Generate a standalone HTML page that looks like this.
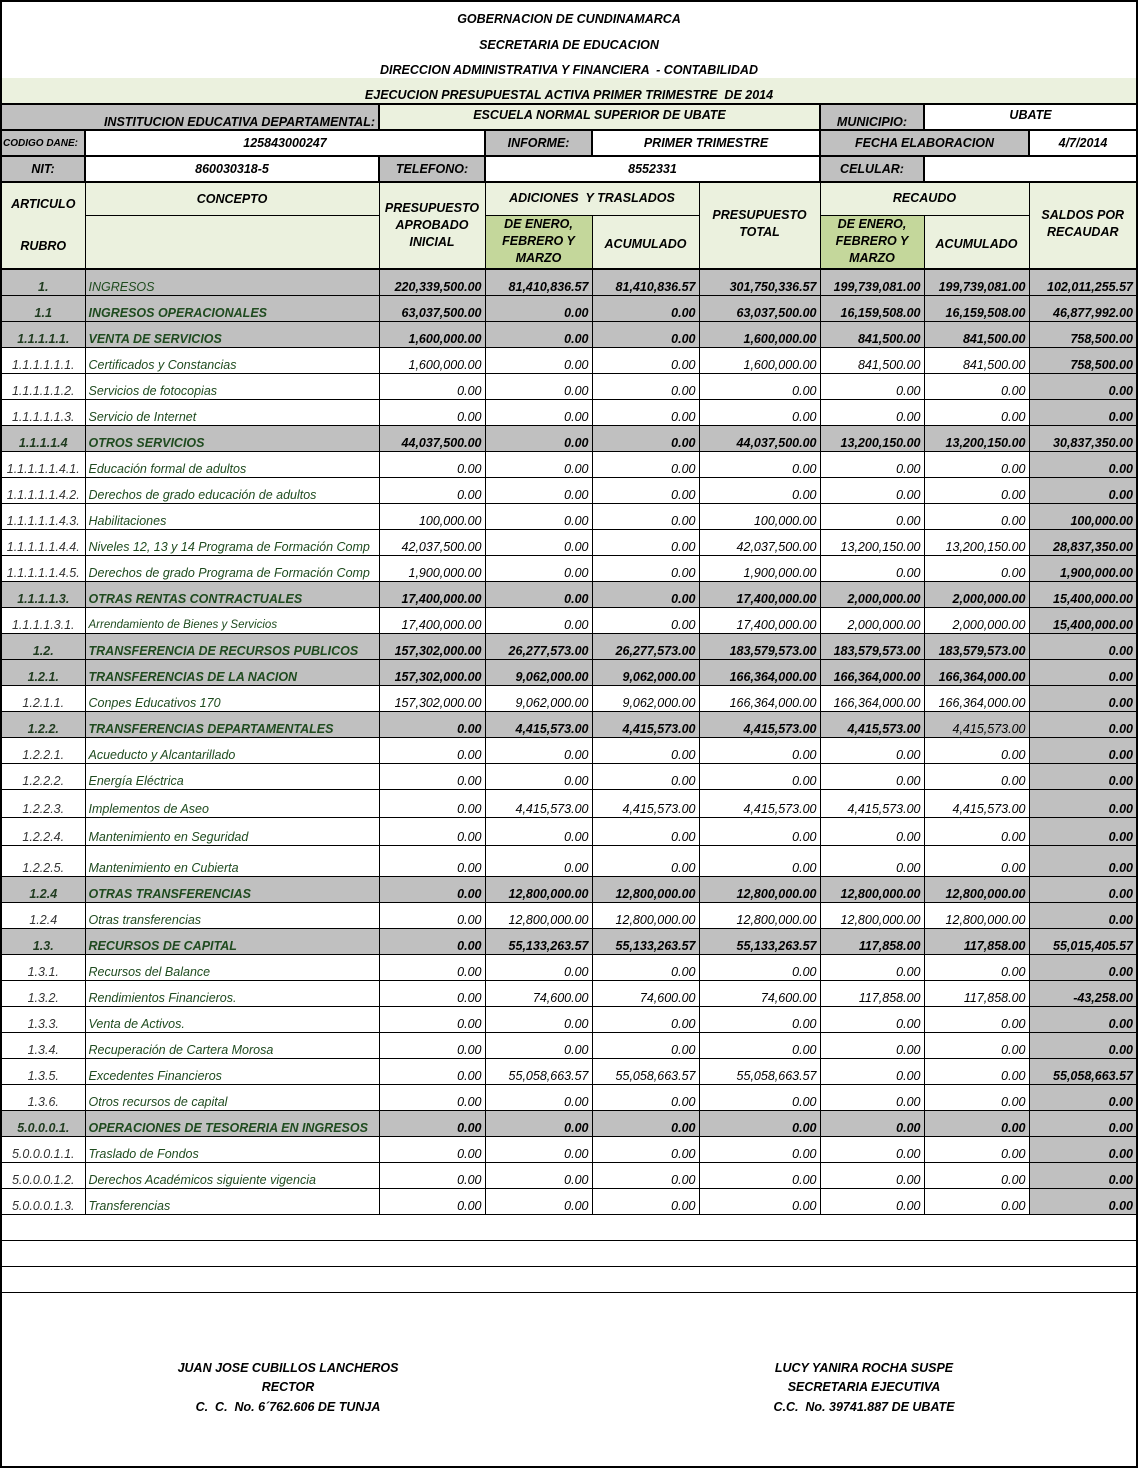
<!DOCTYPE html>
<html><head><meta charset="utf-8">
<style>
html,body{margin:0;padding:0;background:#fff;}
body{width:1138px;height:1467px;overflow:hidden;position:relative;}
table{position:absolute;left:0;top:0;border-collapse:collapse;table-layout:fixed;width:1138px;border:2px solid #000;}
td{border:1px solid #000;padding:0 3px 1px 3px;font-family:"Liberation Sans",sans-serif;font-style:italic;font-size:12.5px;color:#000;white-space:nowrap;overflow:hidden;vertical-align:bottom;line-height:14px;}
.t td{border:none;text-align:center;font-weight:bold;font-size:12.5px;}
.gr{background:#c0c0c0;}
.lg{background:#ebf1de;}
.dg{background:#c4d79b;}
.w{background:#fff;}
.b{font-weight:bold;}
.c{text-align:center;}
.r{text-align:right;}
.hd td{border-width:2px;}
tr.d td{text-align:right;}
tr.d td:nth-child(1){text-align:center;color:#333;}
tr.d td:nth-child(2){text-align:left;color:#1f4b1f;}
tr.d td:nth-child(9){background:#c0c0c0;font-weight:bold;}
tr.g td{background:#c0c0c0;font-weight:bold;}
tr.g td:nth-child(1){color:#1f3b1f;}
tr.d{height:26px;}
.sig td{border:none;text-align:center;font-weight:bold;font-size:12.5px;line-height:19.5px;vertical-align:top;}
</style></head><body>
<table>
<colgroup><col style="width:84px"><col style="width:294px"><col style="width:106px"><col style="width:107px"><col style="width:107px"><col style="width:121px"><col style="width:104px"><col style="width:105px"><col style="width:108px"></colgroup>
<tr class="t" style="height:29px"><td colspan="9" style="padding-bottom:4px">GOBERNACION DE CUNDINAMARCA</td></tr>
<tr class="t" style="height:26px"><td colspan="9" style="padding-bottom:4px">SECRETARIA DE EDUCACION</td></tr>
<tr class="t" style="height:22px"><td colspan="9" style="padding-bottom:1px">DIRECCION ADMINISTRATIVA Y FINANCIERA &nbsp;- CONTABILIDAD</td></tr>
<tr class="t" style="height:26px"><td colspan="9" class="lg" style="border-bottom:2px solid #000;padding-bottom:1px">EJECUCION PRESUPUESTAL ACTIVA PRIMER TRIMESTRE &nbsp;DE 2014</td></tr>
<tr class="hd" style="height:26px"><td colspan="2" class="gr b r" style="padding-bottom:0">INSTITUCION EDUCATIVA DEPARTAMENTAL:</td><td colspan="4" class="lg b c" style="vertical-align:top;padding-top:3px">ESCUELA NORMAL SUPERIOR DE UBATE</td><td class="gr b c" style="padding-bottom:0">MUNICIPIO:</td><td colspan="2" class="w b c" style="vertical-align:top;padding-top:3px">UBATE</td></tr>
<tr class="hd" style="height:26px"><td class="gr b" style="font-size:10px;padding:0 1px 4px 1px">CODIGO DANE:</td><td colspan="2" class="w b c" style="padding-bottom:5px">125843000247</td><td class="gr b c" style="padding-bottom:5px">INFORME:</td><td colspan="2" class="w b c" style="padding-bottom:5px">PRIMER TRIMESTRE</td><td colspan="2" class="gr b c" style="padding-bottom:5px">FECHA ELABORACION</td><td class="w b c" style="padding-bottom:5px">4/7/2014</td></tr>
<tr class="hd" style="height:26px"><td class="gr b c" style="padding-bottom:5px">NIT:</td><td class="w b c" style="padding-bottom:5px">860030318-5</td><td class="gr b c" style="padding-bottom:5px">TELEFONO:</td><td colspan="3" class="w b c" style="padding-bottom:5px">8552331</td><td class="gr b c" style="padding-bottom:5px">CELULAR:</td><td colspan="2" class="w"></td></tr>
<tr style="height:33px"><td rowspan="2" class="lg b c" style="vertical-align:top;padding-top:0;line-height:42px;border-bottom:2px solid #000">ARTICULO<br>RUBRO</td><td class="lg b c" style="vertical-align:top;padding-top:9px">CONCEPTO</td><td rowspan="2" class="lg b c" style="vertical-align:top;padding-top:17px;line-height:17px;border-bottom:2px solid #000">PRESUPUESTO<br>APROBADO<br>INICIAL</td><td colspan="2" class="lg b c" style="vertical-align:top;padding-top:8px">ADICIONES &nbsp;Y TRASLADOS</td><td rowspan="2" class="lg b c" style="vertical-align:top;padding-top:24px;line-height:17px;border-bottom:2px solid #000">PRESUPUESTO<br>TOTAL</td><td colspan="2" class="lg b c" style="vertical-align:top;padding-top:8px">RECAUDO</td><td rowspan="2" class="lg b c" style="vertical-align:top;padding-top:24px;line-height:17px;border-bottom:2px solid #000">SALDOS POR<br>RECAUDAR</td></tr>
<tr style="height:52px"><td class="lg" style="border-bottom:2px solid #000"></td><td class="dg b c" style="line-height:17px;vertical-align:top;padding:0 3px;border-bottom:2px solid #000">DE ENERO,<br>FEBRERO Y<br>MARZO</td><td class="lg b c" style="padding-bottom:17px;border-bottom:2px solid #000">ACUMULADO</td><td class="dg b c" style="line-height:17px;vertical-align:top;padding:0 3px;border-bottom:2px solid #000">DE ENERO,<br>FEBRERO Y<br>MARZO</td><td class="lg b c" style="padding-bottom:17px;border-bottom:2px solid #000">ACUMULADO</td></tr>
<tr class="d g"><td>1.</td><td style="font-weight:normal">INGRESOS</td><td>220,339,500.00</td><td>81,410,836.57</td><td>81,410,836.57</td><td>301,750,336.57</td><td>199,739,081.00</td><td>199,739,081.00</td><td>102,011,255.57</td></tr>
<tr class="d g"><td>1.1</td><td>INGRESOS OPERACIONALES</td><td>63,037,500.00</td><td>0.00</td><td>0.00</td><td>63,037,500.00</td><td>16,159,508.00</td><td>16,159,508.00</td><td>46,877,992.00</td></tr>
<tr class="d g"><td>1.1.1.1.1.</td><td>VENTA DE SERVICIOS</td><td>1,600,000.00</td><td>0.00</td><td>0.00</td><td>1,600,000.00</td><td>841,500.00</td><td>841,500.00</td><td>758,500.00</td></tr>
<tr class="d"><td>1.1.1.1.1.1.</td><td>Certificados y Constancias</td><td>1,600,000.00</td><td>0.00</td><td>0.00</td><td>1,600,000.00</td><td>841,500.00</td><td>841,500.00</td><td>758,500.00</td></tr>
<tr class="d"><td>1.1.1.1.1.2.</td><td>Servicios de fotocopias</td><td>0.00</td><td>0.00</td><td>0.00</td><td>0.00</td><td>0.00</td><td>0.00</td><td>0.00</td></tr>
<tr class="d"><td>1.1.1.1.1.3.</td><td>Servicio de Internet</td><td>0.00</td><td>0.00</td><td>0.00</td><td>0.00</td><td>0.00</td><td>0.00</td><td>0.00</td></tr>
<tr class="d g"><td>1.1.1.1.4</td><td>OTROS SERVICIOS</td><td>44,037,500.00</td><td>0.00</td><td>0.00</td><td>44,037,500.00</td><td>13,200,150.00</td><td>13,200,150.00</td><td>30,837,350.00</td></tr>
<tr class="d"><td style="padding:0 1px 1px 1px">1.1.1.1.1.4.1.</td><td>Educación formal de adultos</td><td>0.00</td><td>0.00</td><td>0.00</td><td>0.00</td><td>0.00</td><td>0.00</td><td>0.00</td></tr>
<tr class="d"><td style="padding:0 1px 1px 1px">1.1.1.1.1.4.2.</td><td>Derechos de grado educación de adultos</td><td>0.00</td><td>0.00</td><td>0.00</td><td>0.00</td><td>0.00</td><td>0.00</td><td>0.00</td></tr>
<tr class="d"><td style="padding:0 1px 1px 1px">1.1.1.1.1.4.3.</td><td>Habilitaciones</td><td>100,000.00</td><td>0.00</td><td>0.00</td><td>100,000.00</td><td>0.00</td><td>0.00</td><td>100,000.00</td></tr>
<tr class="d"><td style="padding:0 1px 1px 1px">1.1.1.1.1.4.4.</td><td>Niveles 12, 13 y 14 Programa de Formación Comp</td><td>42,037,500.00</td><td>0.00</td><td>0.00</td><td>42,037,500.00</td><td>13,200,150.00</td><td>13,200,150.00</td><td>28,837,350.00</td></tr>
<tr class="d"><td style="padding:0 1px 1px 1px">1.1.1.1.1.4.5.</td><td>Derechos de grado Programa de Formación Comp</td><td>1,900,000.00</td><td>0.00</td><td>0.00</td><td>1,900,000.00</td><td>0.00</td><td>0.00</td><td>1,900,000.00</td></tr>
<tr class="d g"><td>1.1.1.1.3.</td><td>OTRAS RENTAS CONTRACTUALES</td><td>17,400,000.00</td><td>0.00</td><td>0.00</td><td>17,400,000.00</td><td>2,000,000.00</td><td>2,000,000.00</td><td>15,400,000.00</td></tr>
<tr class="d"><td>1.1.1.1.3.1.</td><td style="font-size:11.5px">Arrendamiento de Bienes y Servicios</td><td>17,400,000.00</td><td>0.00</td><td>0.00</td><td>17,400,000.00</td><td>2,000,000.00</td><td>2,000,000.00</td><td>15,400,000.00</td></tr>
<tr class="d g"><td>1.2.</td><td>TRANSFERENCIA DE RECURSOS PUBLICOS</td><td>157,302,000.00</td><td>26,277,573.00</td><td>26,277,573.00</td><td>183,579,573.00</td><td>183,579,573.00</td><td>183,579,573.00</td><td>0.00</td></tr>
<tr class="d g"><td>1.2.1.</td><td>TRANSFERENCIAS DE LA NACION</td><td>157,302,000.00</td><td>9,062,000.00</td><td>9,062,000.00</td><td>166,364,000.00</td><td>166,364,000.00</td><td>166,364,000.00</td><td>0.00</td></tr>
<tr class="d"><td>1.2.1.1.</td><td>Conpes Educativos 170</td><td>157,302,000.00</td><td>9,062,000.00</td><td>9,062,000.00</td><td>166,364,000.00</td><td>166,364,000.00</td><td>166,364,000.00</td><td>0.00</td></tr>
<tr class="d g"><td>1.2.2.</td><td>TRANSFERENCIAS DEPARTAMENTALES</td><td>0.00</td><td>4,415,573.00</td><td>4,415,573.00</td><td>4,415,573.00</td><td>4,415,573.00</td><td style="font-weight:normal">4,415,573.00</td><td>0.00</td></tr>
<tr class="d"><td>1.2.2.1.</td><td>Acueducto y Alcantarillado</td><td>0.00</td><td>0.00</td><td>0.00</td><td>0.00</td><td>0.00</td><td>0.00</td><td>0.00</td></tr>
<tr class="d"><td>1.2.2.2.</td><td>Energía Eléctrica</td><td>0.00</td><td>0.00</td><td>0.00</td><td>0.00</td><td>0.00</td><td>0.00</td><td>0.00</td></tr>
<tr class="d" style="height:28px"><td>1.2.2.3.</td><td>Implementos de Aseo</td><td>0.00</td><td>4,415,573.00</td><td>4,415,573.00</td><td>4,415,573.00</td><td>4,415,573.00</td><td>4,415,573.00</td><td>0.00</td></tr>
<tr class="d" style="height:28px"><td>1.2.2.4.</td><td>Mantenimiento en Seguridad</td><td>0.00</td><td>0.00</td><td>0.00</td><td>0.00</td><td>0.00</td><td>0.00</td><td>0.00</td></tr>
<tr class="d" style="height:31px"><td>1.2.2.5.</td><td>Mantenimiento en Cubierta</td><td>0.00</td><td>0.00</td><td>0.00</td><td>0.00</td><td>0.00</td><td>0.00</td><td>0.00</td></tr>
<tr class="d g"><td>1.2.4</td><td>OTRAS TRANSFERENCIAS</td><td>0.00</td><td>12,800,000.00</td><td>12,800,000.00</td><td>12,800,000.00</td><td>12,800,000.00</td><td>12,800,000.00</td><td>0.00</td></tr>
<tr class="d"><td>1.2.4</td><td>Otras transferencias</td><td>0.00</td><td>12,800,000.00</td><td>12,800,000.00</td><td>12,800,000.00</td><td>12,800,000.00</td><td>12,800,000.00</td><td>0.00</td></tr>
<tr class="d g"><td>1.3.</td><td>RECURSOS DE CAPITAL</td><td>0.00</td><td>55,133,263.57</td><td>55,133,263.57</td><td>55,133,263.57</td><td>117,858.00</td><td>117,858.00</td><td>55,015,405.57</td></tr>
<tr class="d"><td>1.3.1.</td><td>Recursos del Balance</td><td>0.00</td><td>0.00</td><td>0.00</td><td>0.00</td><td>0.00</td><td>0.00</td><td>0.00</td></tr>
<tr class="d"><td>1.3.2.</td><td>Rendimientos Financieros.</td><td>0.00</td><td>74,600.00</td><td>74,600.00</td><td>74,600.00</td><td>117,858.00</td><td>117,858.00</td><td>-43,258.00</td></tr>
<tr class="d"><td>1.3.3.</td><td>Venta de Activos.</td><td>0.00</td><td>0.00</td><td>0.00</td><td>0.00</td><td>0.00</td><td>0.00</td><td>0.00</td></tr>
<tr class="d"><td>1.3.4.</td><td>Recuperación de Cartera Morosa</td><td>0.00</td><td>0.00</td><td>0.00</td><td>0.00</td><td>0.00</td><td>0.00</td><td>0.00</td></tr>
<tr class="d"><td>1.3.5.</td><td>Excedentes Financieros</td><td>0.00</td><td>55,058,663.57</td><td>55,058,663.57</td><td>55,058,663.57</td><td>0.00</td><td>0.00</td><td>55,058,663.57</td></tr>
<tr class="d"><td>1.3.6.</td><td>Otros recursos de capital</td><td>0.00</td><td>0.00</td><td>0.00</td><td>0.00</td><td>0.00</td><td>0.00</td><td>0.00</td></tr>
<tr class="d g"><td>5.0.0.0.1.</td><td>OPERACIONES DE TESORERIA EN INGRESOS</td><td>0.00</td><td>0.00</td><td>0.00</td><td>0.00</td><td>0.00</td><td>0.00</td><td>0.00</td></tr>
<tr class="d"><td>5.0.0.0.1.1.</td><td>Traslado de Fondos</td><td>0.00</td><td>0.00</td><td>0.00</td><td>0.00</td><td>0.00</td><td>0.00</td><td>0.00</td></tr>
<tr class="d"><td>5.0.0.0.1.2.</td><td>Derechos Académicos siguiente vigencia</td><td>0.00</td><td>0.00</td><td>0.00</td><td>0.00</td><td>0.00</td><td>0.00</td><td>0.00</td></tr>
<tr class="d"><td>5.0.0.0.1.3.</td><td>Transferencias</td><td>0.00</td><td>0.00</td><td>0.00</td><td>0.00</td><td>0.00</td><td>0.00</td><td>0.00</td></tr>
<tr style="height:26px"><td colspan="9"></td></tr>
<tr style="height:26px"><td colspan="9"></td></tr>
<tr style="height:26px"><td colspan="9"></td></tr>
<tr class="sig" style="height:175px"><td colspan="4" style="padding:66px 18px 0 0;text-align:center">JUAN JOSE CUBILLOS LANCHEROS<br>RECTOR<br>C. &nbsp;C. &nbsp;No. 6´762.606 DE TUNJA</td><td colspan="5" style="padding:66px 0 0 0;text-align:center">LUCY YANIRA ROCHA SUSPE<br>SECRETARIA EJECUTIVA<br>C.C. &nbsp;No. 39741.887 DE UBATE</td></tr>
</table>
</body></html>
